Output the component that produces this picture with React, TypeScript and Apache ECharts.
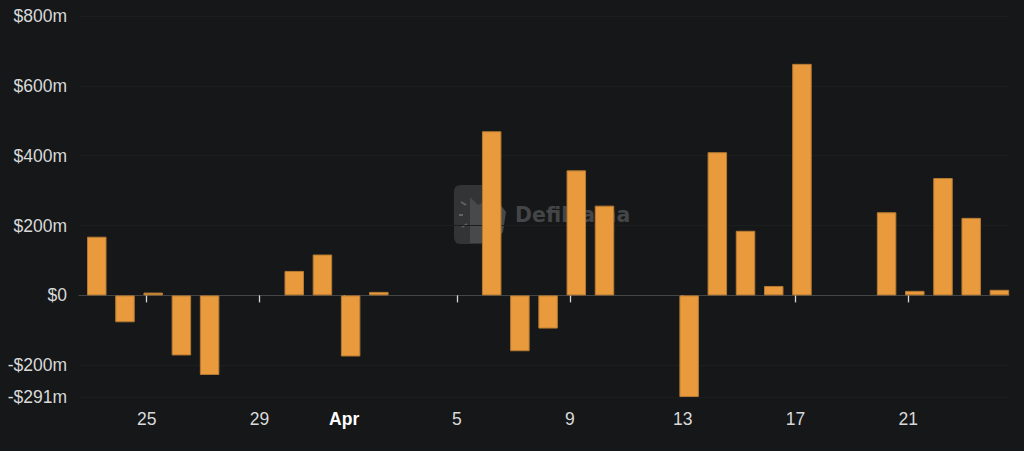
import React, { useEffect, useRef } from "react";
import * as echarts from "echarts";

const BAR_OFFSET = 0.23;
const values = [168, -77, 8, -172, -228, null, null, 70, 117, -175, 10, null, null, null, 470, -160, -95, 358, 257, null, null, -291, 410, 185, 27, 663, null, null, 238, 13, 336, 222, 16];
const tickDays = [2, 6, 9, 13, 17, 21, 25, 29];
const tickLabels = ["25", "29", "Apr", "5", "9", "13", "17", "21"];
const yTicks = [-291, -200, 0, 200, 400, 600, 800];
const yLabels = ["-$291m", "-$200m", "$0", "$200m", "$400m", "$600m", "$800m"];

const xMin = -0.4;
const xMax = 32.57;
const FONT = "Liberation Sans";

export default function App() {
  const ref = useRef<HTMLDivElement>(null);
  useEffect(() => {
    const chart = echarts.init(ref.current!, undefined, { renderer: "svg" });
    chart.setOption({
      animation: false,
      backgroundColor: "#151719",
      textStyle: { fontFamily: FONT },
      grid: { left: 79, right: 15, top: 16, bottom: 54 },
      graphic: [
        { type: "rect", z: 0, shape: { x: 454, y: 185, width: 40, height: 59, r: 6 }, style: { fill: "#323436" } },
        { type: "polygon", z: 0, shape: { points: [[470, 197], [478, 205], [494, 196], [506, 212], [503, 232], [494, 243], [470, 243]] }, style: { fill: "#47494b" } },
        { type: "line", z: 0, shape: { x1: 461, y1: 202, x2: 466, y2: 205 }, style: { stroke: "#606264", lineWidth: 2 } },
        { type: "line", z: 0, shape: { x1: 459, y1: 215, x2: 463, y2: 215 }, style: { stroke: "#606264", lineWidth: 2 } },
        { type: "line", z: 0, shape: { x1: 462, y1: 227, x2: 467, y2: 224 }, style: { stroke: "#606264", lineWidth: 2 } },
        { type: "text", z: 0, x: 515, y: 204, style: { text: "DefiLlama", fill: "#434547", font: "bold 20.5px 'DejaVu Sans'" } },
      ],
      xAxis: [
        {
          type: "value",
          min: xMin,
          max: xMax,
          axisLine: { onZero: true, lineStyle: { color: "#434547", width: 1 } },
          axisTick: { show: true, customValues: tickDays, length: 7, lineStyle: { color: "#d8d8d8", width: 1.3 } },
          axisLabel: { show: false },
          splitLine: { show: false },
        },
        {
          type: "value",
          position: "bottom",
          min: xMin,
          max: xMax,
          axisLine: { show: false, onZero: false },
          axisTick: { show: false },
          splitLine: { show: false },
          axisLabel: {
            show: true,
            customValues: tickDays,
            margin: 13,
            color: "#d9d9d9",
            fontSize: 17.5,
            fontFamily: FONT,
            hideOverlap: false,
            showMinLabel: true,
            showMaxLabel: true,
            formatter: (v: number) => {
              const l = tickLabels[tickDays.indexOf(v)] ?? "";
              return l === "Apr" ? `{b|${l}}` : l;
            },
            rich: { b: { fontWeight: "bold", color: "#ffffff", fontSize: 17.5, fontFamily: FONT } },
          },
        },
      ],
      yAxis: {
        type: "value",
        min: -291,
        max: 800,
        axisLine: { show: false },
        axisTick: { show: false },
        axisLabel: {
          customValues: yTicks,
          margin: 12,
          color: "#d9d9d9",
          fontSize: 17.5,
          fontFamily: FONT,
          formatter: (v: number) => yLabels[yTicks.indexOf(v)] ?? "",
        },
        splitLine: { show: true, customValues: yTicks, lineStyle: { color: "#1b1d1f", width: 1 } },
      },
      series: [
        {
          type: "bar",
          xAxisIndex: 0,
          barWidth: 19.5,
          clip: false,
          z: 5,
          itemStyle: { color: "#E99A3C", borderColor: "#b57a33", borderWidth: 1 },
          data: values.map((v, i) => [i + BAR_OFFSET, v]),
        },
      ],
    });
    return () => chart.dispose();
  }, []);
  return <div ref={ref} style={{ position: "fixed", left: 0, top: 0, width: 1024, height: 451 }} />;
}
